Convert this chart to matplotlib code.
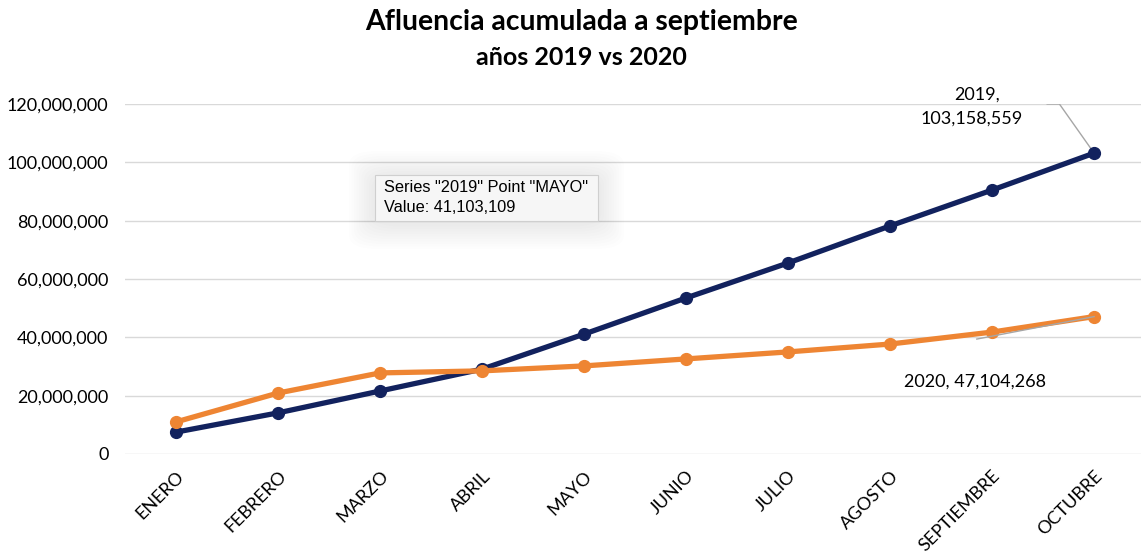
import matplotlib.pyplot as plt
from matplotlib.patches import FancyBboxPatch
from matplotlib.ticker import FuncFormatter

plt.rcParams['font.family'] = ['Lato', 'DejaVu Sans']

# data
meses = ['ENERO', 'FEBRERO', 'MARZO', 'ABRIL', 'MAYO', 'JUNIO',
         'JULIO', 'AGOSTO', 'SEPTIEMBRE', 'OCTUBRE']
v2019 = [7.5e6, 14.1e6, 21.6e6, 29.1e6, 41103109, 53.5e6,
         65.5e6, 78.2e6, 90.5e6, 103158559]
v2020 = [11.0e6, 20.9e6, 27.8e6, 28.5e6, 30.2e6, 32.6e6,
         35.0e6, 37.7e6, 41.8e6, 47104268]
yticks = [0, 20e6, 40e6, 60e6, 80e6, 100e6, 120e6]

navy = '#12225E'
orange = '#EE8533'
W, H = 1141, 555

fig = plt.figure(figsize=(W / 100, H / 100), dpi=100)
ax = fig.add_axes([0.1096, 0.182, 0.894, 0.6306])

x = list(range(len(meses)))
ax.plot(x, v2019, color=navy, lw=3.8, marker='o', ms=8.5, zorder=3,
        solid_capstyle='round')
ax.plot(x, v2020, color=orange, lw=3.8, marker='o', ms=8.5, zorder=4,
        solid_capstyle='round')

ax.set_xlim(-0.5, len(meses) - 0.5)
ax.set_ylim(0, 120e6)
ax.set_yticks(yticks)
ax.yaxis.set_major_formatter(FuncFormatter(lambda v, p: f'{int(v):,}'))
ax.set_xticks(x)
ax.set_xticklabels(meses, rotation=45, ha='right', va='top',
                   rotation_mode='anchor')
ax.tick_params(axis='both', length=0, labelsize=13, colors='black')
ax.tick_params(axis='y', pad=12)
ax.tick_params(axis='x', pad=10)
ax.grid(axis='y', color='#D9D9D9', lw=1)
ax.set_axisbelow(True)
for s in ax.spines.values():
    s.set_visible(False)

# data labels with leader lines
last = len(meses) - 1
ax.plot([8.54, 8.66, last], [120e6, 120e6, v2019[-1]], color='#A6A6A6',
        lw=1, zorder=2.5)
ax.text(7.85, 1e6 * (454 - 95) / 2.917, '2019,', ha='center', va='center',
        fontsize=13)
ax.text(7.8, 1e6 * (454 - 119) / 2.917, f'{v2019[-1]:,}', ha='center',
        va='center', fontsize=13)
ax.plot([7.85, last], [39.4e6, v2020[-1]], color='#A6A6A6', lw=1,
        zorder=4.5)
ax.text(7.83, 24.7e6, f'2020, {v2020[-1]:,}', ha='center', va='center',
        fontsize=13)

# tooltip with soft shadow
bx, by, bw, bh = 375 / W, 1 - 221 / H, 223 / W, 46 / H
for i in range(10):
    pad = 26 - i * 2.5
    fig.patches.append(FancyBboxPatch(
        (bx - pad / W, by - (pad + 2) / H), bw + 2 * pad / W,
        bh + 2 * pad / H,
        boxstyle='round,pad=0,rounding_size=0.025',
        transform=fig.transFigure, facecolor='black', edgecolor='none',
        alpha=0.007, zorder=9))
fig.patches.append(FancyBboxPatch(
    (bx, by), bw, bh, boxstyle='square,pad=0', transform=fig.transFigure,
    facecolor='#F6F6F6', edgecolor='#CFCFCF', lw=0.8, zorder=10))
fig.text(384 / W, 1 - 187 / H, 'Series "2019" Point "MAYO"',
         family=['Liberation Sans', 'DejaVu Sans'], fontsize=11.8,
         va='center', ha='left', zorder=11)
fig.text(384 / W, 1 - 208 / H, f'Value: {v2019[4]:,}',
         family=['Liberation Sans', 'DejaVu Sans'], fontsize=11.8,
         va='center', ha='left', zorder=11)

fig.text(0.51, 1 - 22 / H, 'Afluencia acumulada a septiembre',
         ha='center', va='center', fontsize=20.4, fontweight='bold')
fig.text(0.51, 1 - 57 / H, 'años 2019 vs 2020',
         ha='center', va='center', fontsize=18, fontweight='bold')

fig.savefig('out.png', dpi=100)
